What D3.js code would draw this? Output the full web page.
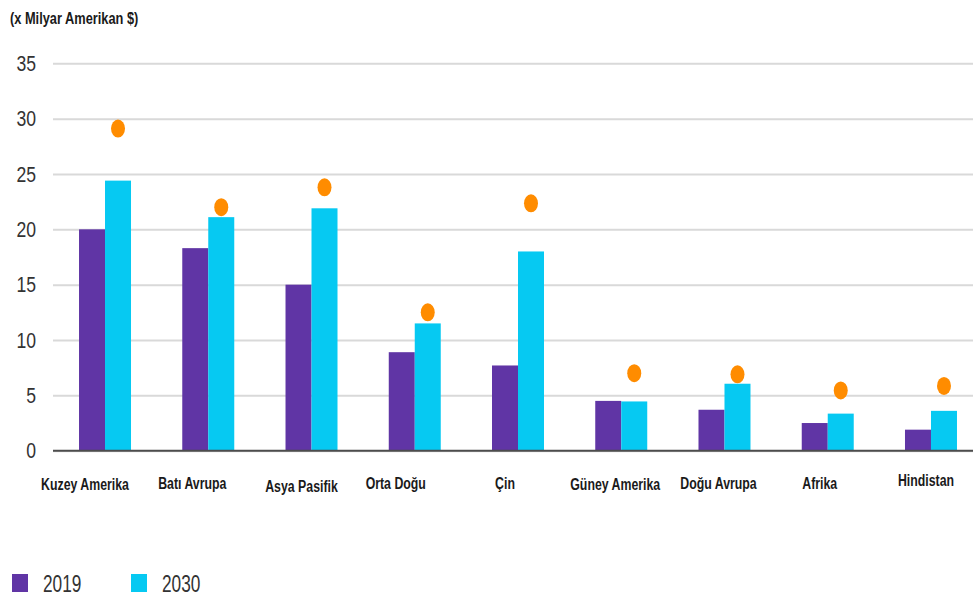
<!DOCTYPE html>
<html>
<head>
<meta charset="utf-8">
<script src="https://cdn.jsdelivr.net/npm/d3@7"></script>
<style>
  html, body { margin: 0; padding: 0; background: #fff; }
  svg { display: block; }
  text { font-family: "Liberation Sans", Arial, sans-serif; }
</style>
</head>
<body>
<svg id="chart" width="973" height="597"></svg>
<script>
// Regions
const regions = ["Kuzey Amerika", "Batı Avrupa", "Asya Pasifik", "Orta Doğu", "Çin",
                 "Güney Amerika", "Doğu Avrupa", "Afrika", "Hindistan"];
// Series (x Milyar Amerikan $)
const seriesNames = ["2019", "2030"];
const values2019 = [20.0, 18.3, 15.0, 8.9, 7.7, 4.5, 3.7, 2.5, 1.9];
const values2030 = [24.4, 21.1, 21.9, 11.5, 18.0, 4.45, 6.05, 3.35, 3.6];
// Orange markers drawn above the 2030 bars
const markerValues = [29.1, 22.0, 23.8, 12.5, 22.35, 7.0, 6.9, 5.45, 5.85];
// Axis ticks
const yTicks = [0, 5, 10, 15, 20, 25, 30, 35];
const unitLabel = "(x Milyar Amerikan $)";

const colors = { "2019": "#6035A5", "2030": "#06C9F2" };
const markerColor = "#FF8C00";

// Small horizontal / vertical nudges for the category labels
const labelDx = [-20, -16, -10, -19, -13, -6, -6, -8, -5];
const labelDy = [1, 0, 3, 0, 0, 1, 0, 0, -3];

const svg = d3.select("#chart");

// Condense a text selection horizontally (narrow typeface look)
function condense(sel, factor) {
  sel.each(function () {
    const w = this.getComputedTextLength();
    d3.select(this).attr("textLength", w * factor).attr("lengthAdjust", "spacingAndGlyphs");
  });
}

const y = d3.scaleLinear().domain([0, 35]).range([450.7, 63.3]);
const x = d3.scaleBand().domain(regions).range([53, 983])
  .paddingInner(0.4964).paddingOuter(0.252);
const xSub = d3.scaleBand().domain(seriesNames).range([0, x.bandwidth()]).padding(0);

// Unit label
svg.append("text")
  .attr("x", 10).attr("y", 24)
  .attr("font-size", 16).attr("font-weight", "bold").attr("fill", "#1a1a1a")
  .text(unitLabel)
  .call(condense, 0.8);

// Gridlines and tick labels
const yAxis = d3.axisLeft(y).tickValues(yTicks).tickSize(-920).tickPadding(17);
const gy = svg.append("g").attr("transform", "translate(53,0)").call(yAxis);
gy.select(".domain").remove();
gy.selectAll(".tick line").attr("stroke", "#d9d9d9").attr("stroke-width", 2);
gy.selectAll(".tick text")
  .attr("font-size", 22).attr("fill", "#333")
  .attr("font-family", "'Liberation Sans', Arial, sans-serif")
  .call(condense, 0.8);

// Bars
const rows = regions.map((r, i) => ({ region: r, "2019": values2019[i], "2030": values2030[i], marker: markerValues[i] }));

const groups = svg.append("g").selectAll("g").data(rows).join("g")
  .attr("transform", d => `translate(${x(d.region)},0)`);

groups.selectAll("rect")
  .data(d => seriesNames.map(k => ({ key: k, value: d[k] })))
  .join("rect")
  .attr("x", d => xSub(d.key))
  .attr("y", d => y(d.value))
  .attr("width", xSub.bandwidth())
  .attr("height", d => y(0) - y(d.value))
  .attr("fill", d => colors[d.key]);

// Markers
groups.append("ellipse")
  .attr("cx", xSub("2030") + xSub.bandwidth() / 2)
  .attr("cy", d => y(d.marker))
  .attr("rx", 7).attr("ry", 9)
  .attr("fill", markerColor);

// Baseline
svg.append("line")
  .attr("x1", 53).attr("x2", 973)
  .attr("y1", y(0)).attr("y2", y(0))
  .attr("stroke", "#4d4d4d").attr("stroke-width", 2);

// Category labels
svg.append("g").selectAll("text").data(regions).join("text")
  .attr("x", (d, i) => x(d) + x.bandwidth() / 2 + labelDx[i])
  .attr("y", (d, i) => 489 + labelDy[i])
  .attr("text-anchor", "middle")
  .attr("font-size", 16).attr("font-weight", "bold").attr("fill", "#1a1a1a")
  .text(d => d)
  .call(condense, 0.77);

// Legend
const legend = svg.append("g").selectAll("g").data(seriesNames).join("g")
  .attr("transform", (d, i) => `translate(${12 + i * 119},574)`);
legend.append("rect").attr("width", 16).attr("height", 18).attr("fill", d => colors[d]);
legend.append("text").attr("x", 31).attr("y", 18)
  .attr("font-size", 23).attr("fill", "#333").text(d => d)
  .call(condense, 0.75);
</script>
</body>
</html>
